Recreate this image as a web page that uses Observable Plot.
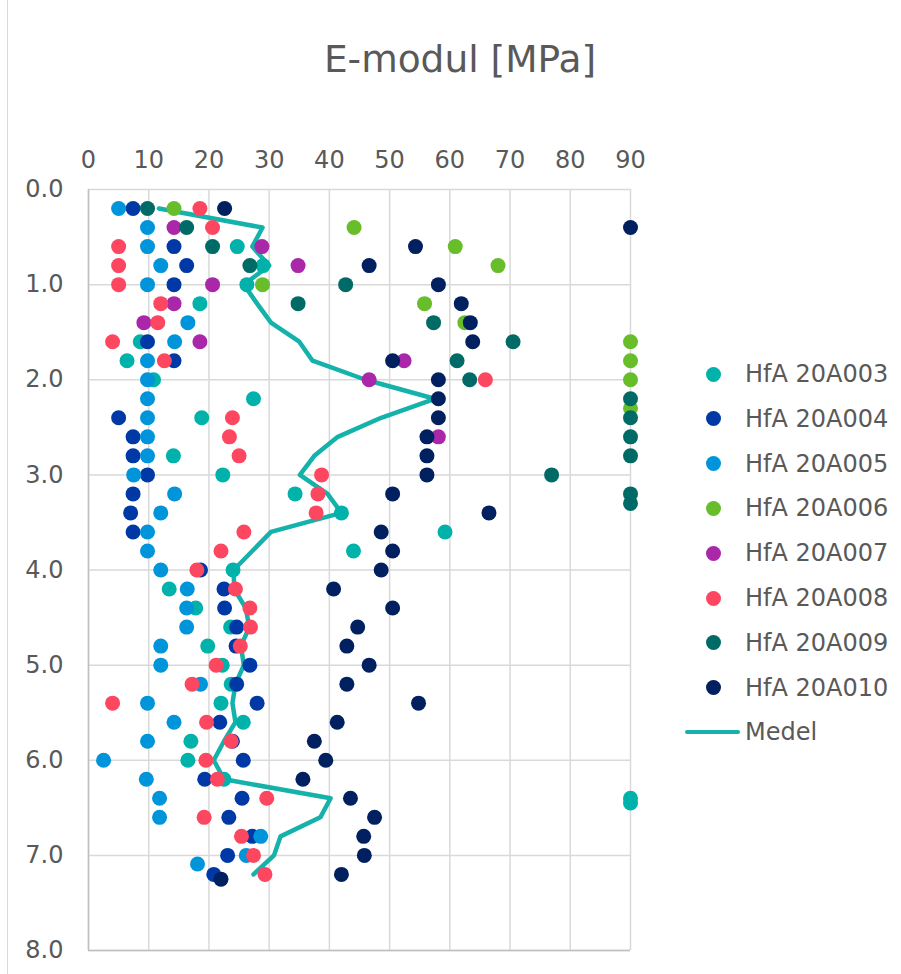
<!DOCTYPE html>
<html><head><meta charset="utf-8">
<script src="https://cdn.jsdelivr.net/npm/d3@7"></script>
<script src="https://cdn.jsdelivr.net/npm/@observablehq/plot@0.6"></script>
<style>
body{margin:0;background:#fff;font-family:"DejaVu Sans",Verdana,sans-serif;}
#wrap{position:relative;width:901px;height:974px;overflow:hidden;background:#fff;}
#border{position:absolute;left:7px;top:0;width:0;height:974px;border-left:1.5px solid #D9D9D9;}
#title{position:absolute;left:0;width:920px;top:41px;text-align:center;font-size:37.5px;line-height:37.5px;color:#595959;}
#chart{position:absolute;left:0;top:0;}
.leg{position:absolute;left:0;height:24px;width:901px;}
.leg .mk{position:absolute;left:705.5px;top:4.5px;width:15px;height:15px;border-radius:50%;}
.leg .ln{position:absolute;left:685px;top:10px;width:55px;height:4px;border-radius:2px;}
.leg .tx{position:absolute;left:745px;top:0;font-size:24px;line-height:24px;color:#595959;white-space:nowrap;}
</style>
</head><body>
<div id="wrap">
  <div id="border"></div>
  <div id="title">E-modul [MPa]</div>
  <div id="chart"></div>
  <div id="legend"></div>
</div>
<script>
// Series names and colours
const seriesNames = ["HfA 20A003","HfA 20A004","HfA 20A005","HfA 20A006","HfA 20A007","HfA 20A008","HfA 20A009","HfA 20A010"];
const seriesColors = ["#00B2A9","#0039A6","#0095DA","#67BD2A","#A927A8","#FD4660","#006B66","#00205F"];
const medelName = "Medel";
const medelColor = "#14B2AA";
const xTicks = [0,10,20,30,40,50,60,70,80,90];
const yTicks = [0,1,2,3,4,5,6,7,8];

// [depth (m), E-modul (MPa)]
const s003 = [[0.6,24.7],[0.8,29.0],[1.0,26.3],[1.2,18.5],[1.6,8.6],[1.8,6.4],[2.0,10.8],[2.2,27.4],[2.4,18.8],[2.8,14.1],[3.0,22.3],[3.2,34.3],[3.4,42.0],[3.6,59.2],[3.8,44.0],[4.0,24.0],[4.2,13.4],[4.4,17.8],[4.6,23.6],[4.8,19.8],[5.0,22.2],[5.2,23.7],[5.4,22.0],[5.6,25.7],[5.8,17.0],[6.0,16.5],[6.2,22.5],[6.4,90],[6.45,90]];
const s004 = [[0.2,7.4],[0.6,14.2],[0.8,16.3],[1.0,14.2],[1.6,9.8],[1.8,14.2],[2.4,5.0],[2.6,7.4],[2.8,7.4],[3.0,9.8],[3.2,7.4],[3.4,7.0],[3.6,7.4],[4.0,18.6],[4.2,22.5],[4.4,22.6],[4.6,24.6],[4.8,24.5],[5.0,26.8],[5.2,24.6],[5.4,28.0],[5.6,21.8],[5.8,23.9],[6.0,25.7],[6.2,19.3],[6.4,25.5],[6.6,23.3],[6.8,27.2],[7.0,23.1],[7.2,20.8]];
const s005 = [[0.2,5.0],[0.4,9.8],[0.6,9.8],[0.8,12.0],[1.0,9.8],[1.4,16.5],[1.6,14.3],[1.8,9.8],[2.0,9.8],[2.2,9.8],[2.4,9.8],[2.6,9.8],[2.8,9.8],[3.0,7.5],[3.2,14.3],[3.4,12.0],[3.6,9.8],[3.8,9.8],[4.0,12.0],[4.2,16.4],[4.4,16.3],[4.6,16.3],[4.8,12.0],[5.0,12.0],[5.2,18.6],[5.4,9.8],[5.6,14.2],[5.8,9.8],[6.0,2.5],[6.2,9.6],[6.4,11.8],[6.6,11.8],[6.8,28.6],[7.0,26.2],[7.09,18.1]];
const s006 = [[0.2,14.2],[0.4,44.1],[0.6,60.9],[0.8,68.0],[1.0,28.9],[1.2,55.8],[1.4,62.5],[1.6,90],[1.8,90],[2.0,90],[2.3,90]];
const s007 = [[0.4,14.2],[0.6,28.8],[0.8,34.8],[1.0,20.6],[1.2,14.2],[1.4,9.2],[1.6,18.5],[1.8,52.4],[2.0,46.6],[2.6,58.1]];
const s008 = [[0.2,18.5],[0.4,20.6],[0.6,5.0],[0.8,5.0],[1.0,5.0],[1.2,12.0],[1.4,11.5],[1.6,4.0],[1.8,12.6],[2.0,65.9],[2.4,23.9],[2.6,23.4],[2.8,25.0],[3.0,38.7],[3.2,38.1],[3.4,37.8],[3.6,25.8],[3.8,22.0],[4.0,18.0],[4.2,24.4],[4.4,26.8],[4.6,26.9],[4.8,25.2],[5.0,21.2],[5.2,17.2],[5.4,4.0],[5.6,19.6],[5.8,23.7],[6.0,19.5],[6.2,21.4],[6.4,29.6],[6.6,19.2],[6.8,25.4],[7.0,27.4],[7.2,29.3]];
const s009 = [[0.2,9.8],[0.4,16.3],[0.6,20.6],[0.8,26.8],[1.0,42.7],[1.2,34.8],[1.4,57.3],[1.6,70.5],[1.8,61.2],[2.0,63.3],[2.2,90],[2.4,90],[2.6,90],[2.8,90],[3.0,76.9],[3.2,90],[3.3,90]];
const s010 = [[0.2,22.6],[0.4,90],[0.6,54.3],[0.8,46.6],[1.0,58.1],[1.2,61.9],[1.4,63.4],[1.6,63.8],[1.8,50.5],[2.0,58.1],[2.2,58.1],[2.4,58.1],[2.6,56.2],[2.8,56.2],[3.0,56.2],[3.2,50.5],[3.4,66.5],[3.6,48.6],[3.8,50.5],[4.0,48.6],[4.2,40.7],[4.4,50.5],[4.6,44.7],[4.8,42.9],[5.0,46.6],[5.2,42.9],[5.4,54.8],[5.6,41.3],[5.8,37.5],[6.0,39.4],[6.2,35.6],[6.4,43.5],[6.6,47.5],[6.8,45.7],[7.0,45.8],[7.2,42.0],[7.25,22.0]];
const medel = [[0.2,11.7],[0.4,28.9],[0.6,27.2],[0.8,30.0],[1.0,25.8],[1.2,28.0],[1.4,30.3],[1.6,35.0],[1.8,37.2],[2.0,46.0],[2.2,57.5],[2.4,48.6],[2.6,41.4],[2.8,37.5],[3.0,35.1],[3.2,39.7],[3.4,42.0],[3.6,30.3],[3.8,27.2],[4.0,24.1],[4.2,24.2],[4.4,26.1],[4.6,26.7],[4.8,25.3],[5.0,25.8],[5.2,24.4],[5.4,23.9],[5.6,24.4],[5.8,22.5],[6.0,20.8],[6.2,22.5],[6.4,40.2],[6.6,38.5],[6.8,31.9],[7.0,30.8],[7.2,27.4]];

const seriesData = [s003,s004,s005,s006,s007,s008,s009,s010];
const rows = seriesData.flatMap((s,i) => s.map(([d,e]) => ({name: seriesNames[i], depth: d, E: e})));
const medelRows = medel.map(([d,e]) => ({depth: d, E: e}));

const chart = Plot.plot({
  width: 901, height: 974,
  marginLeft: 88, marginRight: 271, marginTop: 189, marginBottom: 24,
  style: {fontFamily: '"DejaVu Sans", Verdana, sans-serif', fontSize: "24px", color: "#595959", background: "transparent", overflow: "visible"},
  x: {domain: [0, 90], axis: null, label: null},
  y: {domain: [0, 8], reverse: true, axis: null, label: null},
  color: {domain: seriesNames, range: seriesColors},
  marks: [
    Plot.gridX(xTicks, {stroke: "#D9D9D9", strokeOpacity: 1, strokeWidth: 1.5}),
    Plot.gridY(yTicks, {stroke: "#D9D9D9", strokeOpacity: 1, strokeWidth: 1.5}),
    Plot.ruleX([0], {stroke: "#BFBFBF", strokeWidth: 1.5}),
    Plot.ruleY([8], {stroke: "#BFBFBF", strokeWidth: 1.5}),
    Plot.axisX(xTicks, {anchor: "top", tickSize: 0, tickPadding: 22, fill: "#595959", fontSize: 24, label: null}),
    Plot.axisY(yTicks, {anchor: "left", tickSize: 0, tickPadding: 25, fill: "#595959", fontSize: 24, tickFormat: d3.format(".1f"), label: null}),
    Plot.line(medelRows, {x: "E", y: "depth", stroke: medelColor, strokeWidth: 4.5, strokeLinejoin: "round"}),
    Plot.dot(rows, {x: "E", y: "depth", fill: "name", r: 7.5})
  ]
});
document.getElementById("chart").appendChild(chart);

// Legend
const legend = document.getElementById("legend");
const legendTop = 374, legendStep = 44.8;
seriesNames.forEach((n, i) => {
  const div = document.createElement("div");
  div.className = "leg";
  div.style.top = (legendTop + i * legendStep - 12) + "px";
  div.innerHTML = `<div class="mk" style="background:${seriesColors[i]}"></div><span class="tx">${n}</span>`;
  legend.appendChild(div);
});
const md = document.createElement("div");
md.className = "leg";
md.style.top = (legendTop + 8 * legendStep - 12) + "px";
md.innerHTML = `<div class="ln" style="background:${medelColor}"></div><span class="tx">${medelName}</span>`;
legend.appendChild(md);
</script>
</body></html>
